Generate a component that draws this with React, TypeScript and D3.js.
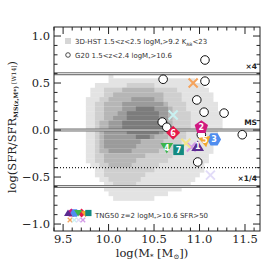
import * as d3 from 'd3';

// G20 galaxies (open circles)
const g20Mass = [11.06, 10.6, 11.06, 10.97, 11.05, 11.27, 10.59, 10.64, 11.02, 11.47, 10.98];
const g20Sfr = [0.745, 0.54, 0.52, 0.32, 0.19, 0.18, 0.085, 0.03, -0.05, -0.05, -0.34];

// TNG50 numbered galaxies
const tngIds = ['6', '2', '3', '5', '1', '4', '7'];
const tngMass = [10.71, 11.02, 11.16, 11.06, 10.98, 10.64, 10.77];
const tngSfr = [-0.03, 0.03, -0.1, -0.11, -0.17, -0.19, -0.21];
const tngColors = ['#e6194b', '#d0187f', '#4f8def', '#f2a72e', '#5b2a90', '#3cb44b', '#138a80'];
const tngShapes = ['diamond', 'pentagon', 'hexagon', 'tri-left', 'tri-up', 'tri-down', 'square'];

// TNG50 crosses
const crossMass = [10.93, 10.71, 11.12, 10.91, 10.85];
const crossSfr = [0.5, 0.16, -0.48, -0.18, -0.14];
const crossColors = ['#f5a35c', '#c9f1f1', '#e2dcf8', '#d49be6', '#f2e58a'];

// 3D-HST 2D histogram: per row (top -> bottom, 0.05 dex), column ranges for levels 1..5
const histMass0 = 9.75;
const histSfr0 = 0.6;
const histStep = 0.05;
const histRows: number[][][] = [
  [[5, 5]],
  [[5, 23]],
  [[2, 25], [9, 14]],
  [[1, 26], [4, 19], [8, 14]],
  [[1, 27], [4, 20], [6, 16]],
  [[0, 27], [3, 20], [5, 16], [10, 14]],
  [[0, 28], [2, 21], [4, 17], [8, 16]],
  [[0, 28], [2, 21], [4, 18], [8, 17], [11, 14]],
  [[0, 29], [2, 22], [4, 18], [7, 17], [9, 15]],
  [[0, 29], [2, 22], [4, 18], [6, 17], [9, 15]],
  [[0, 29], [2, 22], [3, 18], [5, 17], [8, 16]],
  [[0, 29], [2, 22], [3, 18], [5, 17], [8, 16]],
  [[0, 28], [2, 21], [3, 17], [4, 16], [9, 15]],
  [[0, 28], [2, 21], [3, 17], [4, 14], [11, 13]],
  [[0, 28], [2, 20], [3, 16], [4, 11]],
  [[0, 27], [2, 20], [3, 16], [4, 10]],
  [[0, 27], [2, 19], [3, 15], [5, 9]],
  [[0, 26], [2, 18], [4, 12]],
  [[0, 26], [2, 17], [4, 10]],
  [[1, 25], [3, 15], [5, 9]],
  [[2, 25], [4, 14]],
  [[2, 24], [4, 12]],
  [[3, 23], [5, 11]],
  [[4, 22], [6, 10]],
  [[4, 20]],
  [[5, 17]],
  [[6, 14]],
];
const histColors = ['#e3e3e3', '#cfcfcf', '#b6b6b6', '#9b9b9b', '#7c7c7c'];

const refLines = [0.6, 0, -0.6];
const dottedLevel = -0.4;
const xTicks = [9.5, 10.0, 10.5, 11.0, 11.5];
const yTicks = [1.0, 0.5, 0.0, -0.5, -1.0];

const W = 274, H = 274;
const x = d3.scaleLinear().domain([9.4, 11.665]).range([54, 260]);
const y = d3.scaleLinear().domain([-1.074, 1.096]).range([231, 27]);

function shapePath(shape: string, r: number): string {
  const poly = (n: number, rot: number) =>
    d3.range(n).map((i) => {
      const a = rot + (i * 2 * Math.PI) / n;
      return [r * Math.sin(a), -r * Math.cos(a)];
    });
  let pts: number[][];
  switch (shape) {
    case 'diamond': pts = poly(4, 0); break;
    case 'pentagon': pts = poly(5, 0); break;
    case 'hexagon': pts = poly(6, Math.PI / 6); break;
    case 'tri-up': pts = poly(3, 0).map(([a, b]) => [a * 1.05, b + r * 0.2]); break;
    case 'tri-down': pts = poly(3, Math.PI).map(([a, b]) => [a * 1.05, b - r * 0.2]); break;
    case 'tri-left': pts = poly(3, -Math.PI / 2 + 0.35); break;
    default: pts = poly(4, Math.PI / 4);
  }
  return 'M' + pts.map((p) => p.join(',')).join('L') + 'Z';
}

function Cross({ cx, cy, s, color, w }: { cx: number; cy: number; s: number; color: string; w: number }) {
  return (
    <path
      d={`M${cx - s},${cy - s}L${cx + s},${cy + s}M${cx - s},${cy + s}L${cx + s},${cy - s}`}
      stroke={color}
      strokeWidth={w}
      fill="none"
    />
  );
}

export default function App() {
  const [x0, x1] = x.range();
  const [y0, y1] = y.range();
  const minorX = d3.range(9.4, 11.66, 0.1).filter((v) => Math.abs(v * 2 - Math.round(v * 2)) > 0.01);
  const minorY = d3.range(-1.0, 1.05, 0.1).filter((v) => Math.abs(v * 2 - Math.round(v * 2)) > 0.01);

  const cells: { x: number; y: number; w: number; h: number; c: string }[] = [];
  histRows.forEach((levels, j) => {
    levels.forEach(([a, b], k) => {
      const top = histSfr0 - j * histStep;
      cells.push({
        x: x(histMass0 + a * histStep),
        y: y(top),
        w: x(histMass0 + (b + 1) * histStep) - x(histMass0 + a * histStep),
        h: y(top - histStep) - y(top),
        c: histColors[k],
      });
    });
  });

  const serif = "'DejaVu Serif', 'Liberation Serif', serif";
  const sans = "'DejaVu Sans', sans-serif";

  return (
    <svg width={W} height={H} style={{ position: 'absolute', left: 0, top: 0, background: '#fff' }}>
      {/* histogram */}
      {cells.map((c, i) => (
        <rect key={i} x={c.x} y={c.y} width={c.w + 0.3} height={c.h + 0.3} fill={c.c} />
      ))}

      {/* reference lines */}
      {refLines.map((v) => (
        <g key={v}>
          <line x1={x0} x2={x1} y1={y(v)} y2={y(v)} stroke="#6f6f6f" strokeWidth={3} />
          <line x1={x0} x2={x1} y1={y(v)} y2={y(v)} stroke="#e6e6e6" strokeWidth={1} />
        </g>
      ))}
      <line x1={x0} x2={x1} y1={y(dottedLevel)} y2={y(dottedLevel)} stroke="#222" strokeWidth={1.3} strokeDasharray="1,2" />
      <text x={257} y={y(0.6) - 5} fontSize={7.5} fontWeight="bold" fontFamily={sans} textAnchor="end" fill="#222">×4</text>
      <text x={257} y={y(0) - 5} fontSize={7.5} fontWeight="bold" fontFamily={sans} textAnchor="end" fill="#222">MS</text>
      <text x={257} y={y(-0.6) - 5} fontSize={7.5} fontWeight="bold" fontFamily={sans} textAnchor="end" fill="#222">×1/4</text>

      {/* G20 circles */}
      {g20Mass.map((m, i) => (
        <circle key={i} cx={x(m)} cy={y(g20Sfr[i])} r={4.3} fill="#fff" stroke="#111" strokeWidth={1} />
      ))}

      {/* TNG50 crosses */}
      {crossMass.map((m, i) => (
        <Cross key={i} cx={x(m)} cy={y(crossSfr[i])} s={4.5} color={crossColors[i]} w={2} />
      ))}

      {/* TNG50 numbered markers */}
      {tngMass.map((m, i) => (
        <g key={i} transform={`translate(${x(m)},${y(tngSfr[i])})`}>
          <path d={shapePath(tngShapes[i], tngShapes[i] === 'square' ? 7.5 : 7)} fill={tngColors[i]} />
          <text y={2.8} fontSize={8} fontWeight="bold" fontFamily={sans} textAnchor="middle" fill="#fff">{tngIds[i]}</text>
        </g>
      ))}

      {/* legend top */}
      <rect x={65} y={38} width={6} height={6} fill="#d6d6d6" />
      <text x={75} y={44} fontSize={7} fontFamily={sans} fill="#333">
        3D-HST 1.5&lt;z&lt;2.5 logM<tspan fontSize={4.5} dy={1.5}>*</tspan><tspan dy={-1.5}>&gt;9.2 K</tspan><tspan fontSize={4.5} dy={1.5}>AB</tspan><tspan dy={-1.5}>&lt;23</tspan>
      </text>
      <circle cx={68} cy={55} r={2.3} fill="#fff" stroke="#222" strokeWidth={0.8} />
      <text x={75} y={58} fontSize={7} fontFamily={sans} fill="#333">
        G20 1.5&lt;z&lt;2.4 logM<tspan fontSize={4.5} dy={1.5}>*</tspan><tspan dy={-1.5}>&gt;10.6</tspan>
      </text>

      {/* legend bottom */}
      {tngColors.map((c, i) => {
        const order = [4, 1, 2, 5, 0, 3, 6][i];
        return (
          <path key={i} transform={`translate(${68 + order * 3.4},${213})`} d={shapePath(tngShapes[i], 4.4)} fill={c} />
        );
      })}
      {crossColors.slice(0, 4).map((c, i) => (
        <Cross key={i} cx={70 + i * 4.3} cy={220} s={2.3} color={c} w={1.3} />
      ))}
      <text x={95} y={218} fontSize={7} fontFamily={sans} fill="#333">
        TNG50 z=2 logM<tspan fontSize={4.5} dy={1.5}>*</tspan><tspan dy={-1.5}>&gt;10.6 SFR&gt;50</tspan>
      </text>

      {/* frame */}
      <rect x={x0} y={y1} width={x1 - x0} height={y0 - y1} fill="none" stroke="#222" strokeWidth={1} />

      {/* ticks */}
      {xTicks.map((t) => (
        <g key={t}>
          <line x1={x(t)} x2={x(t)} y1={y0} y2={y0 - 7} stroke="#222" />
          <line x1={x(t)} x2={x(t)} y1={y1} y2={y1 + 7} stroke="#222" />
          <text x={x(t)} y={y0 + 11.5} fontSize={11.5} fontFamily={serif} textAnchor="middle" fill="#222">{t.toFixed(1)}</text>
        </g>
      ))}
      {minorX.map((t, i) => (
        <g key={i}>
          <line x1={x(t)} x2={x(t)} y1={y0} y2={y0 - 3.5} stroke="#222" />
          <line x1={x(t)} x2={x(t)} y1={y1} y2={y1 + 3.5} stroke="#222" />
        </g>
      ))}
      {yTicks.map((t) => (
        <g key={t}>
          <line x1={x0} x2={x0 + 7} y1={y(t)} y2={y(t)} stroke="#222" />
          <line x1={x1} x2={x1 - 7} y1={y(t)} y2={y(t)} stroke="#222" />
          <text x={x0 - 4} y={y(t) + 4} fontSize={11.5} fontFamily={serif} textAnchor="end" fill="#222">
            {t < 0 ? '\u2212' + Math.abs(t).toFixed(1) : t.toFixed(1)}
          </text>
        </g>
      ))}
      {minorY.map((t, i) => (
        <g key={i}>
          <line x1={x0} x2={x0 + 3.5} y1={y(t)} y2={y(t)} stroke="#222" />
          <line x1={x1} x2={x1 - 3.5} y1={y(t)} y2={y(t)} stroke="#222" />
        </g>
      ))}

      {/* axis labels */}
      <text x={152} y={257} fontSize={11.5} fontFamily={serif} textAnchor="middle" fill="#222">
        log(M<tspan fontSize={7} dy={2}>*</tspan><tspan dy={-2}> [M</tspan><tspan fontSize={7} dy={2}>⊙</tspan><tspan dy={-2}>])</tspan>
      </text>
      <text transform={`translate(16,127) rotate(-90)`} fontSize={11.5} fontFamily={serif} textAnchor="middle" fill="#222">
        log(SFR/SFR<tspan fontSize={6} dy={2} fontWeight="bold">MS(z,M*)</tspan><tspan dy={-2} fontSize={6}> [W14]</tspan>)
      </text>
    </svg>
  );
}
